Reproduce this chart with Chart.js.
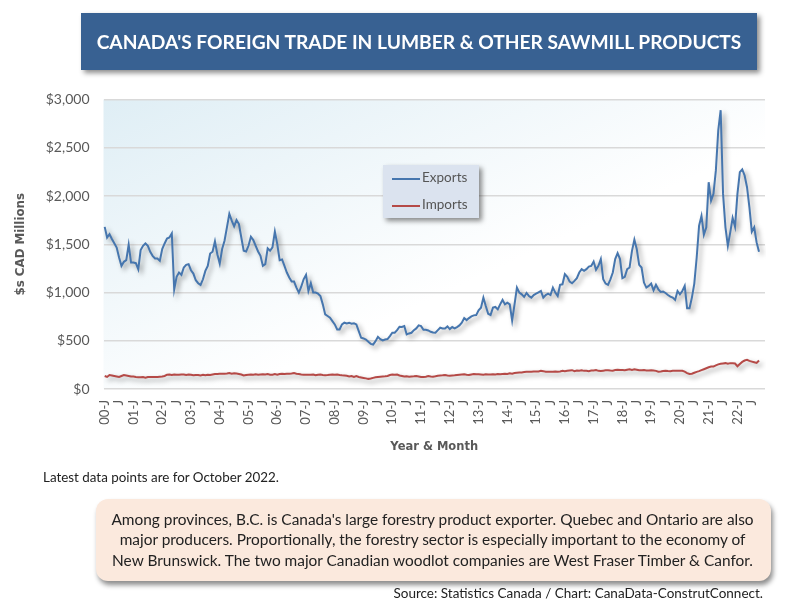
<!DOCTYPE html>
<html><head><meta charset="utf-8">
<script src="https://cdn.jsdelivr.net/npm/chart.js@4/dist/chart.umd.js"></script>
<style>
html,body{margin:0;padding:0;background:#fff;width:800px;height:613px;overflow:hidden;font-family:Lato,sans-serif}
#wrap{position:relative;width:800px;height:613px}
canvas{position:absolute;left:0;top:0}
.abs{position:absolute;white-space:nowrap}
#title{left:81px;top:13px;width:676px;height:57px;line-height:57px;background:#386192;color:#fff;font-weight:700;font-size:19.2px;text-align:center;box-shadow:3px 3px 5px rgba(0,0,0,.45)}
#legend{left:383px;top:165px;width:96px;height:53px;background:#dbe3ef;box-shadow:3px 3px 5px rgba(0,0,0,.45);font-size:13.5px;color:#555}
.li{position:absolute;left:9px;height:20px;line-height:20px}
.li i{position:absolute;left:0;top:9px;width:28px;height:2px}
.li span{position:absolute;left:30px;top:-2px}
#note{left:43px;top:469px;font-size:13.4px;color:#222}
#box{left:96px;top:499px;width:675px;height:82px;box-sizing:border-box;padding:9.5px 2px 0 0;background:#fbe9dd;border-radius:12px;box-shadow:2px 4px 5px rgba(0,0,0,.45);text-align:center;font-size:15.42px;line-height:20.5px;color:#222;white-space:normal}
#src{right:37px;top:585px;font-size:13.5px;color:#222}
</style></head><body>
<div id="wrap">
<canvas id="c" width="800" height="613"></canvas>
<div id="title" class="abs">CANADA'S FOREIGN TRADE IN LUMBER &amp; OTHER SAWMILL PRODUCTS</div>
<div id="legend" class="abs"></div>
<div id="note" class="abs">Latest data points are for October 2022.</div>
<div id="box" class="abs">Among provinces, B.C. is Canada's large forestry product exporter. Quebec and Ontario are also<br>major producers. Proportionally, the forestry sector is especially important to the economy of<br>New Brunswick. The two major Canadian woodlot companies are West Fraser Timber &amp; Canfor.</div>
<div id="src" class="abs">Source: Statistics Canada / Chart: CanaData-ConstrutConnect.</div>
</div>
<script>
const years = ["00","01","02","03","04","05","06","07","08","09","10","11","12","13","14","15","16","17","18","19","20","21","22"];
const monthMarks = ["J","","","","","","J","","","","",""];
const yTicks = [0,500,1000,1500,2000,2500,3000];
const exportsData = [
1680,1570,1605,1555,1510,1465,1363,1276,1318,1335,1495,1310,
1310,1304,1241,1439,1484,1508,1484,1422,1380,1352,1352,1328,
1450,1508,1560,1570,1612,1033,1162,1207,1183,1259,1287,1294,
1231,1196,1127,1096,1079,1137,1224,1276,1404,1422,1529,1397,
1300,1450,1536,1675,1814,1744,1685,1751,1710,1570,1432,1425,
1484,1578,1543,1484,1425,1380,1276,1294,1457,1432,1467,1630,
1502,1335,1342,1276,1207,1155,1113,1113,1050,999,1060,1137,
1183,1016,1096,999,999,988,964,877,773,756,739,704,
669,617,617,669,687,680,687,676,680,669,600,531,
524,513,489,468,461,496,541,517,503,513,517,548,
583,583,610,645,642,652,565,576,583,610,628,659,
652,614,614,607,593,586,583,610,635,628,628,649,
621,642,628,642,659,687,735,714,735,753,763,766,
815,843,947,860,780,766,843,850,825,877,923,877,
895,877,711,877,1051,999,981,954,995,964,947,974,
988,1002,1016,947,974,988,974,1051,999,964,1079,1085,
1190,1162,1113,1096,1120,1148,1207,1242,1224,1242,1269,1276,
1321,1235,1276,1346,1137,1092,1079,1137,1207,1346,1408,1346,
1148,1162,1242,1259,1432,1547,1450,1287,1259,1103,1051,1068,
1092,1023,1079,1033,1006,1009,995,974,957,947,923,1016,
981,1016,1068,836,836,947,1092,1363,1692,1793,1599,1675,
2143,1952,2022,2265,2681,2889,2022,1675,1484,1623,1772,1682,
2022,2247,2275,2213,2091,1883,1630,1675,1519,1422];
const importsData = [
135,125,145,140,135,130,125,135,145,140,135,130,
130,125,122,122,125,118,125,125,125,125,125,128,
130,135,148,150,145,150,148,148,150,150,145,150,
148,142,145,145,140,148,142,148,145,150,155,155,
158,158,158,160,165,158,162,160,155,150,140,145,
148,150,148,152,148,150,152,150,155,148,148,155,
148,155,158,155,158,158,160,165,158,155,150,148,
148,148,148,150,142,148,150,145,143,145,148,150,
148,150,145,142,140,138,130,135,125,135,125,120,
115,110,105,108,115,122,125,128,130,132,135,145,
150,148,150,140,135,130,132,128,130,132,135,130,
125,125,128,135,130,128,132,138,140,142,145,140,
138,140,142,145,148,150,152,148,145,150,155,152,
152,150,148,152,150,150,152,150,155,152,155,158,
155,162,158,165,168,170,172,175,178,180,180,182,
182,182,188,185,178,180,180,178,182,180,182,188,
184,188,192,195,185,192,190,195,188,190,185,192,
192,196,188,186,190,194,195,192,190,196,200,196,
198,195,200,205,198,205,200,195,195,196,192,192,
195,192,188,180,182,186,190,186,185,190,188,190,
190,188,180,165,155,158,168,178,185,195,205,215,
225,232,232,245,255,262,265,268,262,268,266,264,
236,260,281,295,302,291,284,277,270,295];

const labels = [];
years.forEach(y => monthMarks.forEach((m,i) => labels.push(i===0 ? y+"-"+m : m)));

const plotBackground = {
  id:'plotBackground',
  beforeDraw(chart){
    const {ctx,chartArea:a} = chart;
    const g = ctx.createLinearGradient(a.left,a.top,a.left+135,a.top+290);
    g.addColorStop(0,'#dfeef5'); g.addColorStop(1,'#ffffff');
    ctx.save(); ctx.fillStyle=g; ctx.fillRect(a.left,a.top,a.width,a.height); ctx.restore();
  }
};
const lineShadow = {
  id:'lineShadow',
  beforeDatasetDraw(chart){
    const c=chart.ctx; c.save();
    c.shadowColor='rgba(0,0,0,0.38)'; c.shadowBlur=5; c.shadowOffsetX=3; c.shadowOffsetY=3;
  },
  afterDatasetDraw(chart){ chart.ctx.restore(); }
};

const chart = new Chart(document.getElementById('c'),{
  type:'line',
  data:{labels,datasets:[
    {label:'Exports',data:exportsData,borderColor:'#4676ae',borderWidth:2,pointRadius:0,tension:0},
    {label:'Imports',data:importsData,borderColor:'#b54a47',borderWidth:2,pointRadius:0,tension:0}
  ]},
  options:{
    responsive:false,animation:false,
    layout:{padding:{left:14,top:99.5,right:35,bottom:159}},
    plugins:{legend:{display:false},tooltip:{enabled:false}},
    scales:{
      x:{
        offset:true,
        grid:{display:false},border:{display:false},
        ticks:{autoSkip:false,maxRotation:90,minRotation:90,padding:3,color:'#595959',font:{family:'Lato',size:13}},
        title:{display:true,text:'Year & Month',color:'#595959',font:{family:'DejaVu Sans',size:11.5,weight:'bold'},padding:{top:0,bottom:0}},
        afterFit(s){s.height=65;}
      },
      y:{
        min:0,max:3000,
        afterBuildTicks(s){s.ticks=yTicks.map(v=>({value:v}));},
        grid:{color:'#d9d9d9',lineWidth:1.4,drawTicks:false},border:{display:false},
        ticks:{padding:14,color:'#595959',font:{family:'Lato',size:14},callback:v=>'$'+v.toLocaleString('en-US')},
        title:{display:true,text:'$s CAD Millions',color:'#595959',font:{family:'DejaVu Sans',size:11.8,weight:'bold'},padding:{top:0,bottom:0}},
        afterFit(s){s.width=89.5;}
      }
    }
  },
  plugins:[plotBackground,lineShadow]
});

const lg=document.getElementById('legend');
chart.data.datasets.forEach((d,i)=>{
  const r=document.createElement('div'); r.className='li'; r.style.top=(4+i*27)+'px';
  const k=document.createElement('i'); k.style.background=d.borderColor;
  const t=document.createElement('span'); t.textContent=d.label;
  r.append(k,t); lg.append(r);
});
</script>
</body></html>
